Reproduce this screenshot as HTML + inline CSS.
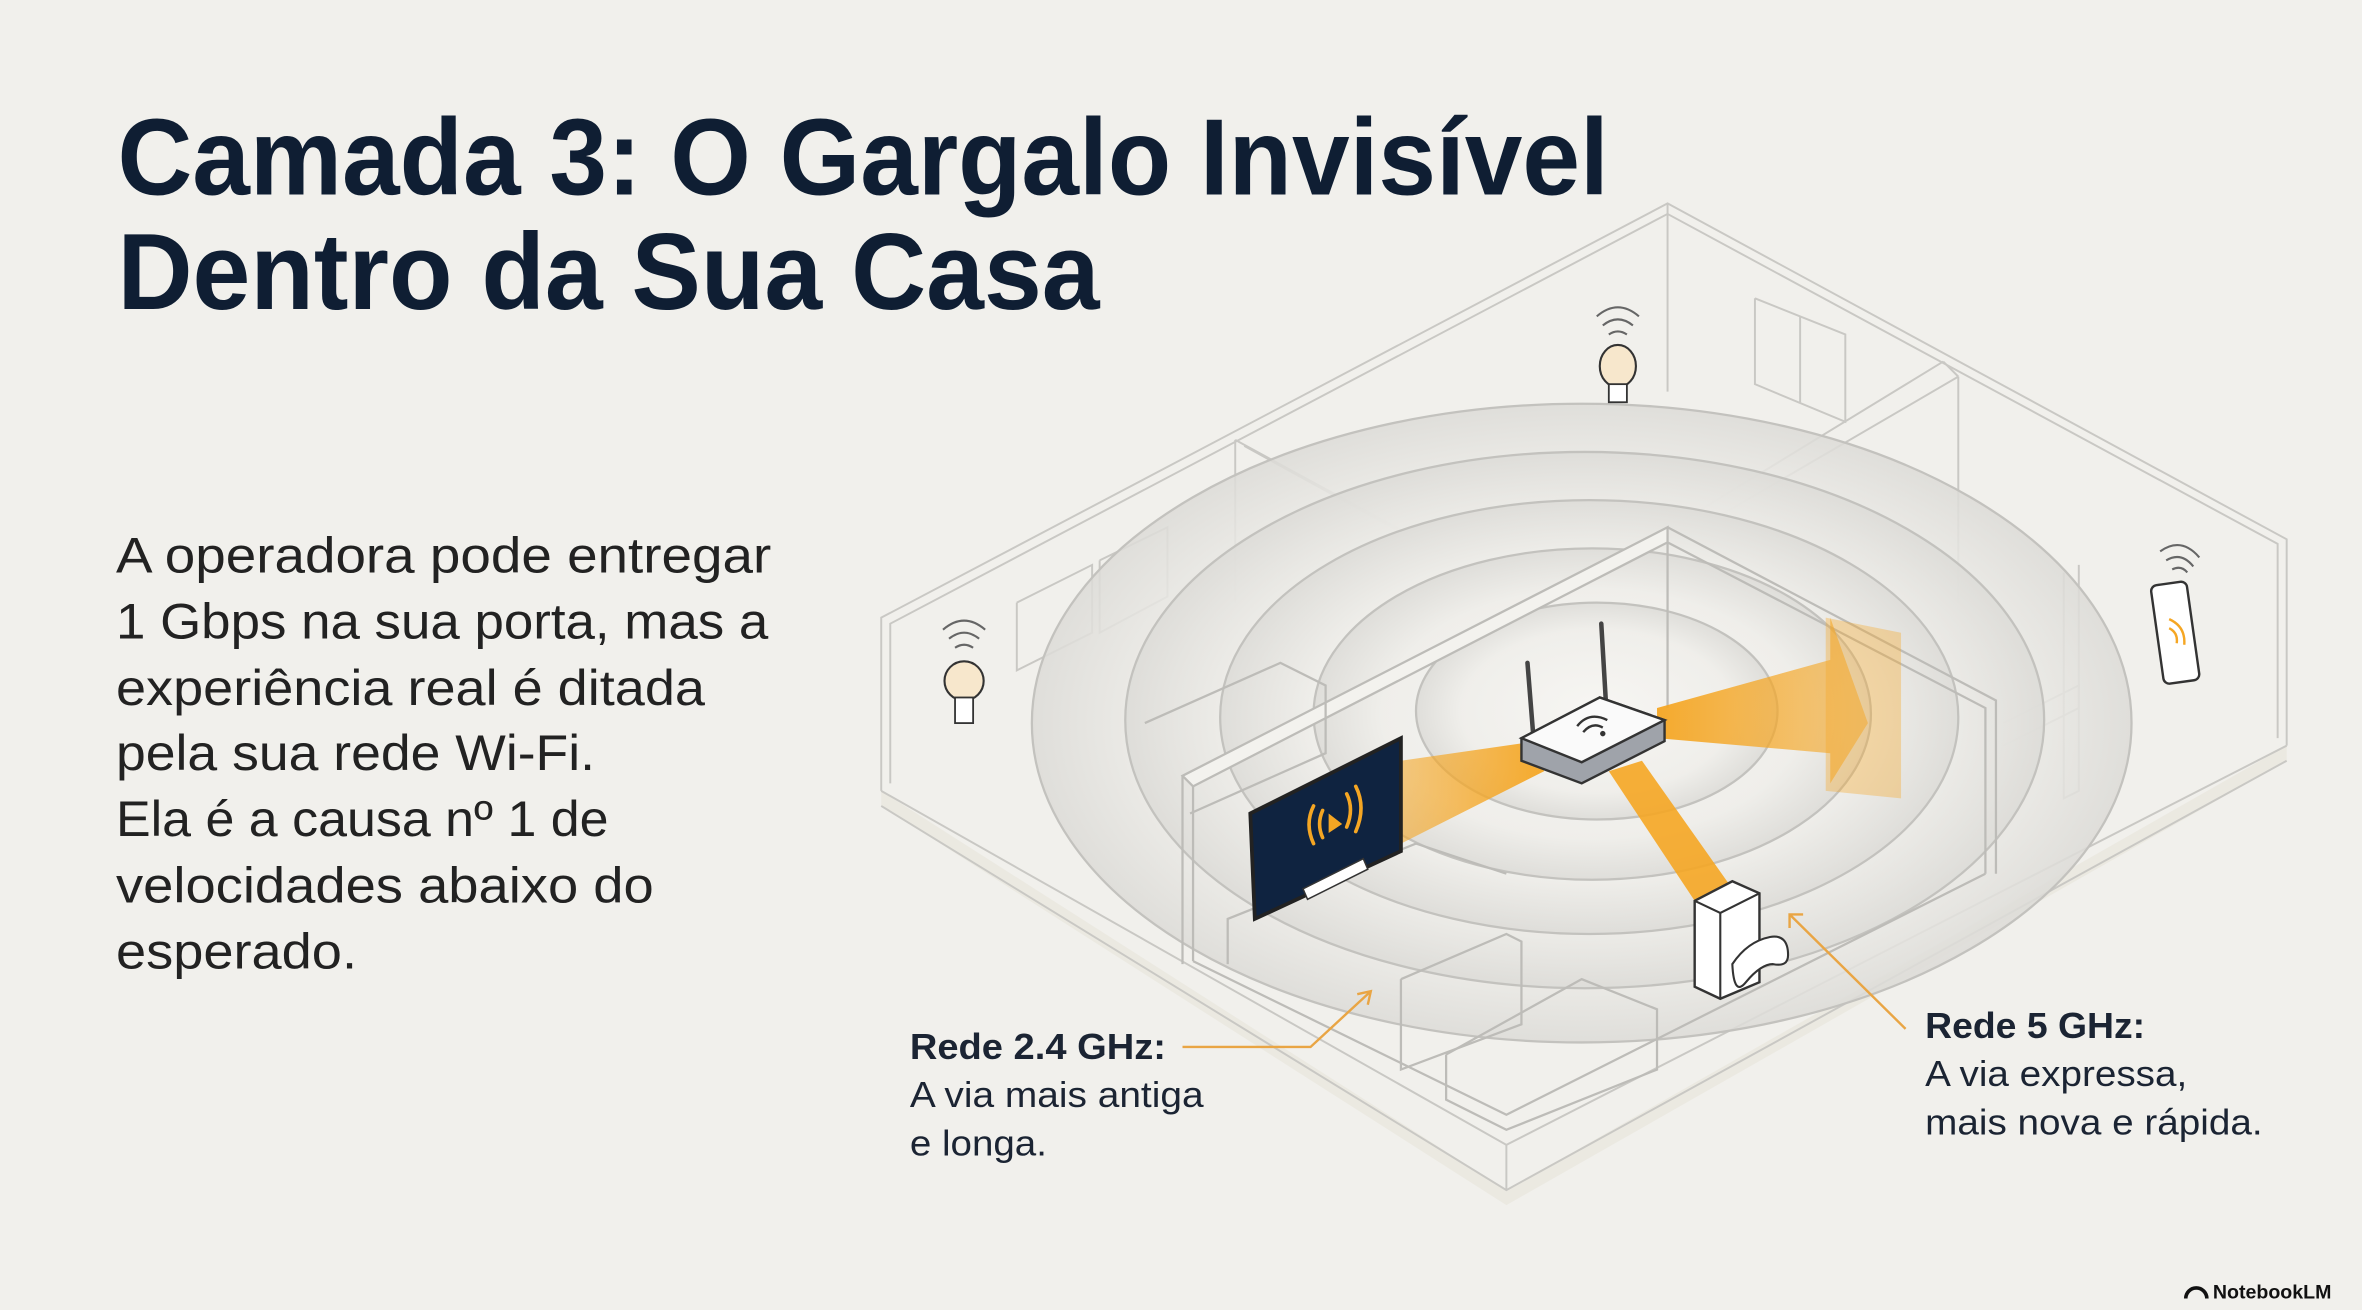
<!DOCTYPE html>
<html><head><meta charset="utf-8"><style>
html,body{margin:0;padding:0;background:#f1f0ec;}
svg{display:block}
</style></head><body>
<svg width="2362" height="1310" viewBox="0 0 1568 869.6" xmlns="http://www.w3.org/2000/svg" font-family="Liberation Sans, sans-serif">
<defs>
<radialGradient id="rg" cx="50%" cy="50%" r="50%">
<stop offset="0" stop-color="#f7f6f3"/><stop offset="0.75" stop-color="#efeeea"/><stop offset="1" stop-color="#dcdbd7"/>
</radialGradient>
<linearGradient id="og" x1="0" x2="1"><stop offset="0" stop-color="#f5a623" stop-opacity="0.95"/><stop offset="1" stop-color="#f5a623" stop-opacity="0.5"/></linearGradient>
<linearGradient id="og2" x1="1" x2="0"><stop offset="0" stop-color="#f5a623" stop-opacity="0.95"/><stop offset="1" stop-color="#f5a623" stop-opacity="0.55"/></linearGradient>
</defs>
<rect width="1568" height="869.6" fill="#f1f0ec"/>

<polygon points="585,525 1000,790 1518,495 1518,505 1000,800 585,535" fill="#e8e4da" opacity="0.6"/>

<g fill="none" stroke="#c9c8c4" stroke-width="1.3">
<polyline points="585,525 585,410 1107,135 1518,358 1518,495"/>
<polyline points="591,520 591,414 1107,142 1512,361 1512,490"/>
<polyline points="585,525 1000,760 1518,495"/>
<polyline points="585,535 1000,790 1518,505"/>
<line x1="1000" y1="760" x2="1000" y2="790"/>
<line x1="1107" y1="135" x2="1107" y2="260"/>
<polyline points="820,292 820,400"/>
<polyline points="820,292 1000,390 1000,400"/>
<polyline points="826,296 1004,394"/>
<polyline points="1290,240 1110,350"/>
<polyline points="1300,250 1300,400"/>
<polyline points="1300,250 1120,355"/>
<polyline points="1290,240 1300,250"/>
<polyline points="1165,198 1165,255 1225,280 1225,222 1165,198"/>
<polyline points="1195,210 1195,267"/>
<polyline points="675,400 675,445 725,420 725,375 675,400"/>
<polyline points="730,372 730,420 775,396 775,350 730,372"/>
<polyline points="1370,380 1370,530 1380,525 1380,375"/>
<polyline points="1330,480 1380,455 1380,470 1330,495"/>
</g>

<g stroke="#c3c2be" stroke-width="1.5" fill="url(#rg)" fill-opacity="0.85">
<ellipse cx="1050" cy="480" rx="365" ry="212"/>
<ellipse cx="1052" cy="478" rx="305" ry="178"/>
<ellipse cx="1055" cy="476" rx="245" ry="144"/>
<ellipse cx="1057" cy="474" rx="185" ry="110"/>
<ellipse cx="1060" cy="472" rx="120" ry="72"/>
</g>

<g fill="none" stroke="#bdbcb8" stroke-width="1.5">
<polygon points="785,515 1107,350 1107,360 792,522" fill="#f3f2ee"/>
<line x1="785" y1="515" x2="785" y2="640"/>
<line x1="792" y1="522" x2="792" y2="638"/>
<polyline points="1107,350 1325,465 1325,580"/>
<polyline points="1107,360 1318,470 1318,580"/>
<line x1="1107" y1="360" x2="1107" y2="470"/>
<polyline points="792,638 1000,740 1318,580"/>
<polyline points="815,640 815,610 940,560 1000,580"/>
<polyline points="930,650 1000,620 1010,625 1010,680 930,710 930,650"/>
<polyline points="960,700 1050,650 1100,670 1100,710 1000,750 960,730 960,700"/>
<polyline points="760,480 850,440 880,455 880,500 790,540"/>
</g>

<polygon points="930,505 1020,492 1025,512 930,560" fill="url(#og2)"/>
<polygon points="1100,470 1215,438 1215,410 1240,480 1215,520 1215,500 1100,490" fill="url(#og)"/>
<polygon points="1212,410 1262,420 1262,530 1212,525" fill="#f5a623" opacity="0.35"/>
<polygon points="1068,512 1090,505 1150,590 1125,598" fill="#f5a623" opacity="0.9"/>

<polygon points="830,540 930,490 930,565 833,610" fill="#0f2340" stroke="#222" stroke-width="2.5"/>
<polygon points="865,590 905,570 908,577 868,597" fill="#fff" stroke="#333"/>
<g fill="none" stroke="#f5a623" stroke-width="2.4" stroke-linecap="round">
<path d="M872,535 q-6,12 0,25"/><path d="M878,538 q-4,9 0,18"/>
<path d="M894,527 q5,10 0,22"/><path d="M900,522 q7,14 0,30"/>
</g>
<polygon points="882,540 891,547 882,553" fill="#f5a623"/>

<line x1="1014" y1="440" x2="1018" y2="490" stroke="#444" stroke-width="3" stroke-linecap="round"/>
<line x1="1063" y1="414" x2="1066" y2="465" stroke="#444" stroke-width="3" stroke-linecap="round"/>
<polygon points="1010,490 1062,463 1105,478 1105,492 1050,520 1010,505" fill="#9fa3aa" stroke="#333" stroke-width="1.6"/>
<polygon points="1010,490 1062,463 1105,478 1050,506" fill="#fafafa" stroke="#333" stroke-width="1.6"/>
<g fill="none" stroke="#333" stroke-width="1.6"><path d="M1047,482 q8,-10 20,-4"/><path d="M1051,486 q6,-7 13,-3"/></g>
<circle cx="1064" cy="487" r="1.8" fill="#333"/>

<polygon points="1125,598 1150,585 1168,593 1168,652 1142,663 1125,655" fill="#fff" stroke="#333" stroke-width="1.6"/>
<polyline points="1125,598 1142,606 1168,593" fill="none" stroke="#333" stroke-width="1.4"/>
<line x1="1142" y1="606" x2="1142" y2="663" stroke="#333" stroke-width="1.4"/>
<path d="M1150,640 q10,-15 25,-18 q12,-2 12,12 q0,8 -10,6 q-8,0 -18,12 q-8,10 -9,-12z" fill="#fff" stroke="#333" stroke-width="1.4"/>

<g>
<ellipse cx="1074" cy="243" rx="12" ry="14" fill="#f7e7cc" stroke="#333" stroke-width="1.4"/>
<rect x="1068" y="255" width="12" height="12" fill="#fff" stroke="#333" stroke-width="1.2"/>
<g fill="none" stroke="#666" stroke-width="1.4"><path d="M1064,216 q10,-8 20,0"/><path d="M1060,210 q14,-12 28,0"/><path d="M1068,222 q6,-4 12,0"/></g>
<ellipse cx="640" cy="452" rx="13" ry="13" fill="#f7e7cc" stroke="#333" stroke-width="1.4"/>
<rect x="634" y="463" width="12" height="17" fill="#fff" stroke="#333" stroke-width="1.2"/>
<g fill="none" stroke="#666" stroke-width="1.4"><path d="M630,424 q10,-8 20,0"/><path d="M626,418 q14,-12 28,0"/><path d="M634,430 q6,-4 12,0"/></g>
</g>
<rect x="1432" y="387" width="24" height="66" rx="4" transform="rotate(-8 1444 420)" fill="#fff" stroke="#333" stroke-width="1.6"/>
<g fill="none" stroke="#f5a623" stroke-width="1.6"><path d="M1440,417 q6,3 5,10"/><path d="M1440,411 q11,5 10,17"/></g>
<g fill="none" stroke="#666" stroke-width="1.4"><path d="M1438,372 q10,-6 18,4"/><path d="M1434,366 q14,-10 26,4"/><path d="M1442,378 q6,-3 10,2"/></g>

<g fill="none" stroke="#e9a544" stroke-width="1.6">
<polyline points="785,695 870,695 910,658"/>
<polyline points="901,660 910,658 908,667"/>
<line x1="1265" y1="683" x2="1188" y2="607"/>
<polyline points="1188,616 1188,607 1197,607"/>
</g>

<g fill="#0f1e33" font-weight="bold" font-size="72">
<text x="78" y="129" textLength="990" lengthAdjust="spacingAndGlyphs">Camada 3: O Gargalo Invisível</text>
<text x="78" y="205" textLength="652" lengthAdjust="spacingAndGlyphs">Dentro da Sua Casa</text>
</g>
<g fill="#222" font-size="33">
<text x="77" y="380" textLength="435" lengthAdjust="spacingAndGlyphs">A operadora pode entregar</text>
<text x="77" y="424" textLength="433" lengthAdjust="spacingAndGlyphs">1 Gbps na sua porta, mas a</text>
<text x="77" y="468" textLength="391" lengthAdjust="spacingAndGlyphs">experiência real é ditada</text>
<text x="77" y="511" textLength="318" lengthAdjust="spacingAndGlyphs">pela sua rede Wi-Fi.</text>
<text x="77" y="555" textLength="327" lengthAdjust="spacingAndGlyphs">Ela é a causa nº 1 de</text>
<text x="77" y="599" textLength="357" lengthAdjust="spacingAndGlyphs">velocidades abaixo do</text>
<text x="77" y="643" textLength="160" lengthAdjust="spacingAndGlyphs">esperado.</text>
</g>
<g fill="#1b2433" font-size="24">
<text x="604" y="703" font-weight="bold" textLength="170" lengthAdjust="spacingAndGlyphs">Rede 2.4 GHz:</text>
<text x="604" y="735" textLength="195" lengthAdjust="spacingAndGlyphs">A via mais antiga</text>
<text x="604" y="767" textLength="91" lengthAdjust="spacingAndGlyphs">e longa.</text>
<text x="1278" y="689" font-weight="bold" textLength="146" lengthAdjust="spacingAndGlyphs">Rede 5 GHz:</text>
<text x="1278" y="721" textLength="174" lengthAdjust="spacingAndGlyphs">A via expressa,</text>
<text x="1278" y="753" textLength="224" lengthAdjust="spacingAndGlyphs">mais nova e rápida.</text>
</g>
<path d="M1451,862 a7,7 0 0 1 14,0" fill="none" stroke="#111" stroke-width="2.4"/>
<text x="1469" y="862" font-size="13" font-weight="bold" fill="#111">NotebookLM</text>
</svg>
</body></html>
